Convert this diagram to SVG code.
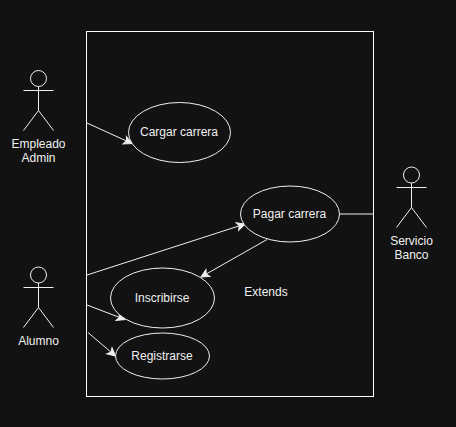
<svg xmlns="http://www.w3.org/2000/svg" width="456" height="427" viewBox="0 0 456 427">
<style>
.s{fill:none;stroke:#f0f0f0;stroke-width:1}
.u{fill:#121212;stroke:#f0f0f0;stroke-width:1}
.c{fill:none;stroke:#f0f0f0;stroke-width:1;marker-end:url(#a)}
text{font-family:"Liberation Sans",Arial,sans-serif;font-size:12px;fill:#f0f0f0;text-anchor:middle}
</style>
<defs>
<marker id="a" markerUnits="userSpaceOnUse" markerWidth="10" markerHeight="10" refX="8" refY="4" orient="auto" overflow="visible"><path d="M0 0L8 4L0 8L2 4Z" fill="#f0f0f0" stroke="#f0f0f0"/></marker>
</defs>
<rect width="456" height="427" fill="#121212"/>
<rect id="boundary" x="86.5" y="31.5" width="287" height="365" fill="#121212" stroke="#ffffff"/>
<g id="connectors">
<path class="c" d="M87 123L132 143.500"/>
<path class="c" d="M87 275L245 224"/>
<path class="c" d="M87 305L125 319.500"/>
<path class="c" d="M88 332.500L115.500 356"/>
<path class="c" d="M267 239.500L201 277"/>
<path class="s" d="M340 214H373"/>
</g>
<g id="empleado-admin">
<circle class="s" cx="38.500" cy="78.500" r="8"/>
<path class="s" d="M38.500 86.500V110.500M23.500 90.500H53.500M38.500 110.500L23.500 130.500M38.500 110.500L53.500 130.500"/>
<text x="38.500" y="148">Empleado</text><text x="38.500" y="162">Admin</text>
</g>
<g id="alumno">
<circle class="s" cx="38.500" cy="275" r="8"/>
<path class="s" d="M38.500 283V307.500M23.500 287.500H53.500M38.500 307.500L23.500 327.500M38.500 307.500L53.500 327.500"/>
<text x="38.500" y="345">Alumno</text>
</g>
<g id="servicio-banco">
<circle class="s" cx="411.500" cy="175" r="8"/>
<path class="s" d="M411.500 183V207.500M396.500 187.500H426.500M411.500 207.500L396.500 227.500M411.500 207.500L426.500 227.500"/>
<text x="411.500" y="245">Servicio</text><text x="411.500" y="259">Banco</text>
</g>
<g id="cargar-carrera"><ellipse class="u" cx="179.500" cy="132.500" rx="51" ry="30"/><text x="179" y="136">Cargar carrera</text></g>
<g id="pagar-carrera"><ellipse class="u" cx="290" cy="214" rx="49.500" ry="28"/><text x="289.500" y="218">Pagar carrera</text></g>
<g id="inscribirse"><ellipse class="u" cx="162.500" cy="298" rx="52" ry="30"/><text x="162" y="302">Inscribirse</text></g>
<g id="registrarse"><ellipse class="u" cx="162.500" cy="356" rx="47" ry="23"/><text x="162" y="360">Registrarse</text></g>
<text id="extends" x="266" y="296">Extends</text>
</svg>
